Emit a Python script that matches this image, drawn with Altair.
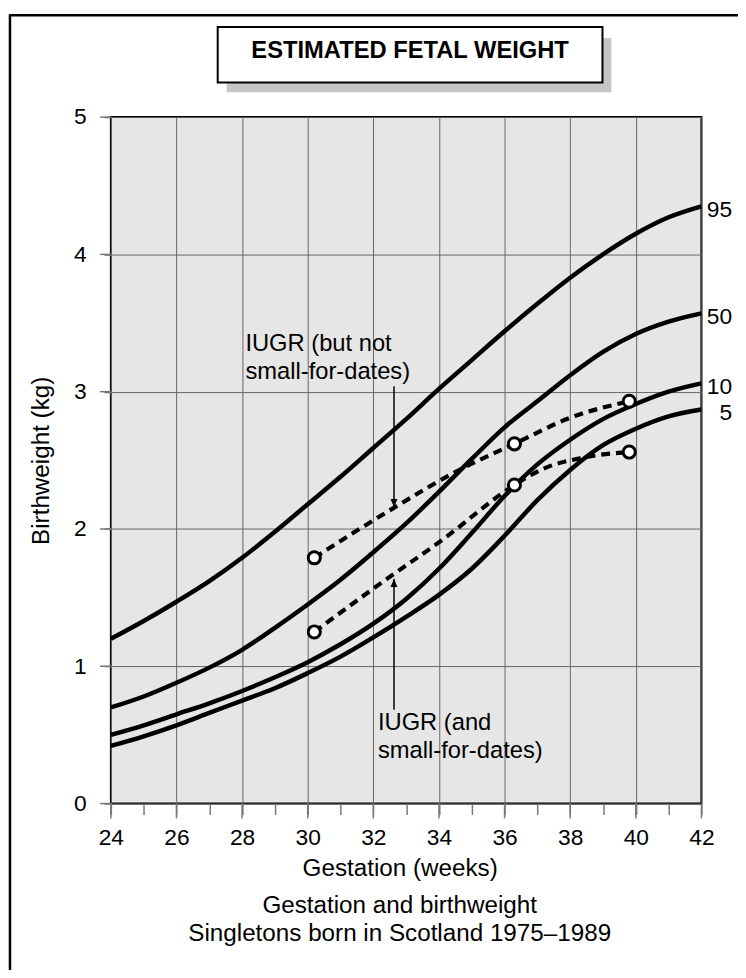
import altair as alt
import pandas as pd

# ---------------- data ----------------
weeks = list(range(24, 43))
p95 = [1.20, 1.33, 1.47, 1.62, 1.79, 1.98, 2.18, 2.38, 2.59, 2.80, 3.02, 3.23, 3.44, 3.64, 3.83, 4.00, 4.15, 4.27, 4.35]
p50 = [0.70, 0.78, 0.88, 0.99, 1.12, 1.28, 1.45, 1.63, 1.83, 2.04, 2.27, 2.51, 2.74, 2.93, 3.12, 3.29, 3.42, 3.51, 3.57]
p10 = [0.50, 0.57, 0.65, 0.73, 0.82, 0.92, 1.03, 1.16, 1.31, 1.49, 1.71, 1.97, 2.24, 2.47, 2.65, 2.80, 2.91, 3.00, 3.06]
p5 = [0.42, 0.49, 0.57, 0.66, 0.75, 0.84, 0.95, 1.07, 1.21, 1.36, 1.52, 1.71, 1.95, 2.21, 2.43, 2.61, 2.73, 2.82, 2.87]
pct_names = ["95", "50", "10", "5"]

upper_path_w = [30.2, 32.6, 34.7, 36.3, 38.0, 39.8]
upper_path_kg = [1.79, 2.15, 2.44, 2.62, 2.81, 2.93]
lower_path_w = [30.2, 32.2, 34.1, 36.3, 37.1, 38.4, 39.8]
lower_path_kg = [1.25, 1.60, 1.92, 2.32, 2.43, 2.52, 2.56]

circle_w = [30.2, 36.3, 39.8]
upper_circle_kg = [1.79, 2.62, 2.93]
lower_circle_kg = [1.25, 2.32, 2.56]

arrow_week = 32.63
upper_arrow_kg = [3.04, 2.16]   # tail, tip
lower_arrow_kg = [0.684, 1.635]  # tail, tip

x_tick_values = list(range(24, 43))
x_major = list(range(24, 43, 2))
y_tick_values = [i * 0.5 for i in range(11)]
y_major = [0, 1, 2, 3, 4, 5]

title_text = "ESTIMATED FETAL WEIGHT"
x_title = "Gestation (weeks)"
y_title = "Birthweight (kg)"
caption_lines = ["Gestation and birthweight", "Singletons born in Scotland 1975\u20131989"]
note_upper = ["IUGR (but not", "small-for-dates)"]
note_lower = ["IUGR (and", "small-for-dates)"]
note_upper_at = (28.1, 3.293)
note_lower_at = (32.14, 0.533)

# ---------------- tables ----------------
curves = pd.concat(
    [pd.DataFrame({"week": weeks, "kg": v, "pct": n}) for n, v in zip(pct_names, [p95, p50, p10, p5])]
)
ends = pd.DataFrame({"week": [weeks[-1]] * 4, "kg": [p95[-1], p50[-1], p10[-1], p5[-1]], "label": pct_names})
dotted = pd.concat([
    pd.DataFrame({"week": upper_path_w, "kg": upper_path_kg, "grp": "upper"}),
    pd.DataFrame({"week": lower_path_w, "kg": lower_path_kg, "grp": "lower"}),
])
circles = pd.concat([
    pd.DataFrame({"week": circle_w, "kg": upper_circle_kg}),
    pd.DataFrame({"week": circle_w, "kg": lower_circle_kg}),
])
arrow_lines = pd.DataFrame({
    "week": [arrow_week, arrow_week],
    "kg": [upper_arrow_kg[0], lower_arrow_kg[0]],
    "kg2": [upper_arrow_kg[1], lower_arrow_kg[1]],
})
tip_down = pd.DataFrame({"week": [arrow_week], "kg": [upper_arrow_kg[1]]})
tip_up = pd.DataFrame({"week": [arrow_week], "kg": [lower_arrow_kg[1]]})
notes = pd.DataFrame({
    "week": [note_upper_at[0], note_lower_at[0]],
    "kg": [note_upper_at[1], note_lower_at[1]],
    "t": ["\n".join(note_upper), "\n".join(note_lower)],
})
xmaj = pd.DataFrame({"week": x_major})
ymaj = pd.DataFrame({"kg": y_major})
one = pd.DataFrame({"t": [title_text]})
cap = pd.DataFrame({"t": ["\n".join(caption_lines)]})

# ---------------- style ----------------
FONT = "Liberation Sans"
W, H = 597, 694
TICK = "#777777"
GRID = "#666666"

xs = alt.Scale(domain=[24, 42], nice=False, zero=False)
ys = alt.Scale(domain=[0, 5], nice=False, zero=True)

X = alt.X(
    "week:Q", scale=xs,
    axis=alt.Axis(
        values=x_tick_values, tickSize=11, tickColor=TICK, tickWidth=1.5, domain=False,
        grid=True, gridColor=GRID, gridWidth=1,
        gridOpacity={"condition": {"test": "datum.value % 2 === 0", "value": 1}, "value": 0},
        format="d",
        labelExpr="datum.value % 2 === 0 ? datum.label : ''",
        labelOverlap=False, labelFlush=False, labelFont=FONT, labelFontSize=23,
        labelColor="black", labelBaseline="alphabetic", labelPadding=30,
        title=x_title, titleFont=FONT, titleFontSize=24.5, titleFontWeight="normal",
        titleColor="black", titleX=292, titleY=73, titleBaseline="alphabetic", titleAlign="center",
    ),
)
Y = alt.Y(
    "kg:Q", scale=ys,
    axis=alt.Axis(
        values=y_tick_values, tickSize=7, tickColor=TICK, tickWidth=1.5, domain=False,
        grid=True, gridColor=GRID, gridWidth=1,
        format="d",
        labelExpr="datum.value % 1 === 0 ? datum.label : ''",
        labelOverlap=False, labelFlush=False, labelFont=FONT, labelFontSize=23,
        labelColor="black", labelPadding=18,
        title=y_title, titleFont=FONT, titleFontSize=24.5, titleFontWeight="normal",
        titleColor="black", titleX=-70, titleY=347, titleAngle=270,
        titleBaseline="middle", titleAlign="center",
    ),
)

# ---------------- layers ----------------
shadow = alt.Chart(one).mark_rect(fill="#c6c6c6").encode(
    x=alt.value(117), x2=alt.value(506), y=alt.value(-80), y2=alt.value(-25))
box = alt.Chart(one).mark_rect(fill="white", stroke="black", strokeWidth=2).encode(
    x=alt.value(108), x2=alt.value(497), y=alt.value(-91), y2=alt.value(-35))
title = alt.Chart(one).mark_text(font=FONT, fontSize=24, fontWeight="bold", align="center",
                                 baseline="alphabetic", color="black").encode(
    x=alt.value(302.5), y=alt.value(-60), text="t:N")
frame_top = alt.Chart(one).mark_rule(color="black", strokeWidth=2.5).encode(
    x=alt.value(-102), x2=alt.value(640), y=alt.value(-103))
frame_left = alt.Chart(one).mark_rule(color="black", strokeWidth=2.5).encode(
    x=alt.value(-102), y=alt.value(-104), y2=alt.value(870))

lines = alt.Chart(curves).mark_line(color="black", strokeWidth=4.5, interpolate="monotone").encode(
    x=X, y=Y, detail="pct:N")
dots = alt.Chart(dotted).mark_line(color="black", strokeWidth=4.2, strokeDash=[9, 6],
                                   interpolate="monotone").encode(x=X, y=Y, detail="grp:N")
rings = alt.Chart(circles).mark_point(shape="circle", size=150, fill="white", stroke="black",
                                      strokeWidth=3, opacity=1, fillOpacity=1).encode(x=X, y=Y)
arrows = alt.Chart(arrow_lines).mark_rule(color="black", strokeWidth=1.5).encode(x=X, y=Y, y2="kg2:Q")
head_down = alt.Chart(tip_down).mark_point(shape="M0,0L-0.875,-2L0.875,-2Z", size=64, filled=True,
                                           color="black", opacity=1).encode(x=X, y=Y)
head_up = alt.Chart(tip_up).mark_point(shape="M0,0L-0.875,2L0.875,2Z", size=64, filled=True,
                                       color="black", opacity=1).encode(x=X, y=Y)
note_text = alt.Chart(notes).mark_text(font=FONT, fontSize=24, align="left", baseline="alphabetic",
                                       lineBreak="\n", lineHeight=28, color="black").encode(
    x=X, y=Y, text="t:N")
end_labels = alt.Chart(ends).mark_text(font=FONT, fontSize=23, align="right", baseline="middle",
                                       dx=31, dy=4, color="black").encode(x=X, y=Y, text="label:N")
xmaj_ticks = alt.Chart(xmaj).mark_rule(color=TICK, strokeWidth=1.5).encode(
    x=X, y=alt.value(H), y2=alt.value(H + 15))
ymaj_ticks = alt.Chart(ymaj).mark_rule(color=TICK, strokeWidth=1.5).encode(
    y=Y, x=alt.value(-11), x2=alt.value(0))
caption = alt.Chart(cap).mark_text(font=FONT, fontSize=24.5, align="center", baseline="alphabetic",
                                   lineBreak="\n", lineHeight=28, color="black").encode(
    x=alt.value(292), y=alt.value(805), text="t:N")

chart = alt.layer(
    shadow, box, title, frame_top, frame_left,
    lines, dots, rings, arrows, head_down, head_up, note_text, end_labels,
    xmaj_ticks, ymaj_ticks, caption,
).properties(
    width=W, height=H,
    autosize=alt.AutoSizeParams(type="none"),
    padding={"left": 104, "top": 105, "right": 37, "bottom": 163},
).configure(background="white").configure_view(stroke="black", strokeWidth=2, fill="#e6e6e6")

chart.save("out.html", embed_options={"renderer": "svg", "actions": False})
